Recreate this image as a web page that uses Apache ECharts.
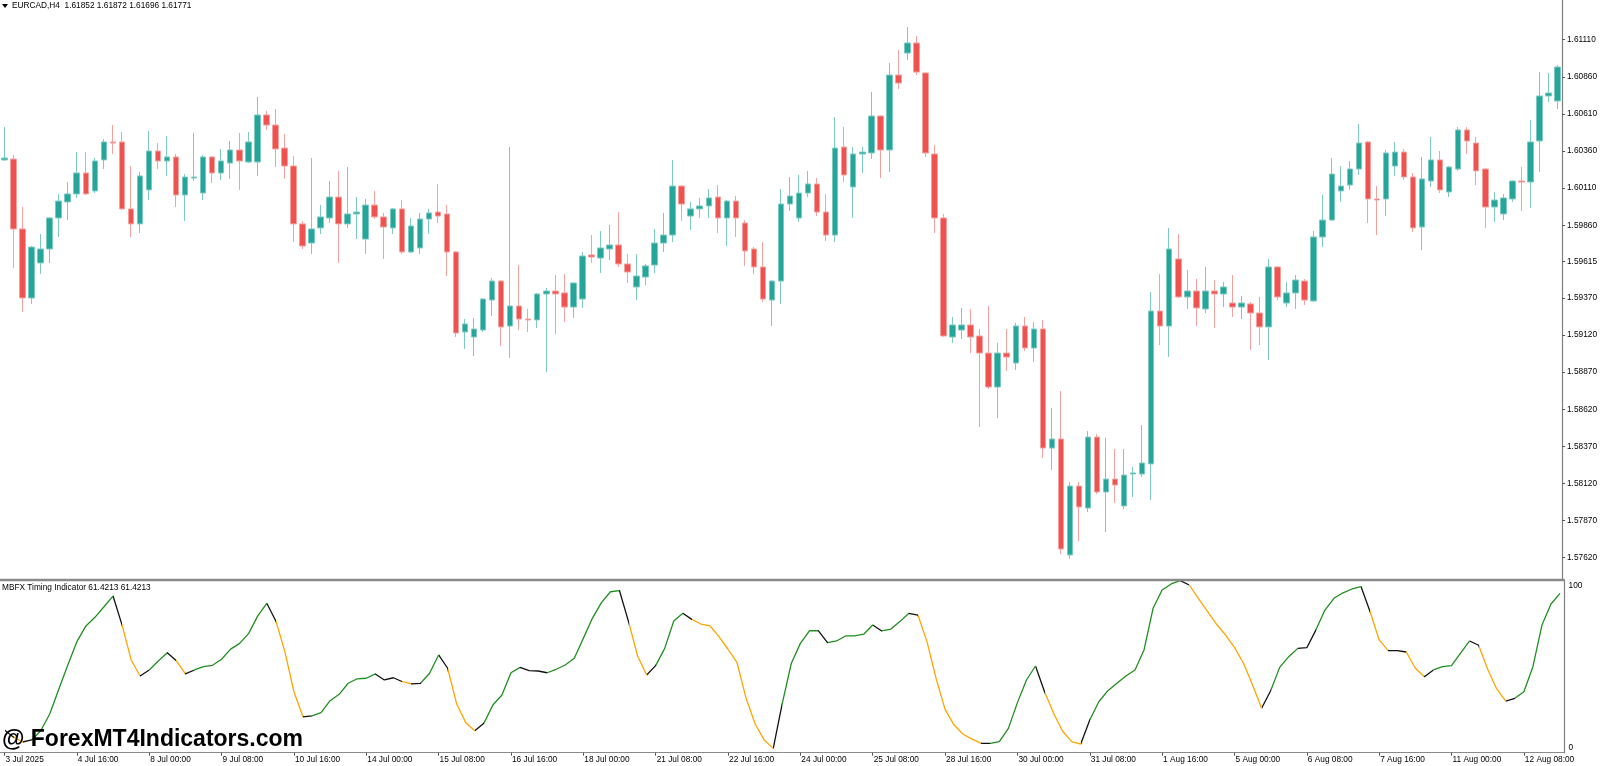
<!DOCTYPE html>
<html>
<head>
<meta charset="utf-8">
<script src="https://cdn.jsdelivr.net/npm/echarts@6/dist/echarts.min.js"></script>
<style>
html,body{margin:0;padding:0;background:#fff;}
#chart{width:1600px;height:766px;}
</style>
</head>
<body>
<div id="chart"></div>
<script>
// ---- DATA (EURCAD H4) ----
const open = [1.60300,1.60306,1.59835,1.59370,1.59606,1.59700,1.59909,1.60017,1.60071,1.60212,1.60091,1.60300,1.60421,1.60421,1.59970,1.59869,1.60098,1.60360,1.60293,1.60320,1.60064,1.60178,1.60077,1.60320,1.60212,1.60279,1.60367,1.60286,1.60286,1.60603,1.60535,1.60380,1.60259,1.59869,1.59740,1.59842,1.59909,1.60050,1.59869,1.59936,1.59767,1.59996,1.59916,1.59842,1.59970,1.59680,1.59707,1.59902,1.59949,1.59936,1.59680,1.59141,1.59107,1.59154,1.59356,1.59484,1.59181,1.59316,1.59228,1.59222,1.59397,1.59417,1.59404,1.59309,1.59363,1.59660,1.59639,1.59700,1.59727,1.59599,1.59444,1.59511,1.59592,1.59740,1.59794,1.60124,1.59922,1.59970,1.59990,1.60050,1.59909,1.60023,1.59875,1.59700,1.59579,1.59356,1.59484,1.60003,1.59909,1.60077,1.60138,1.59949,1.59794,1.60387,1.60118,1.60340,1.60347,1.60596,1.60367,1.60872,1.61020,1.61088,1.60886,1.60340,1.59909,1.59107,1.59154,1.59188,1.59114,1.58999,1.58770,1.58999,1.58932,1.59181,1.59033,1.59161,1.58359,1.58420,1.57639,1.58103,1.57955,1.58433,1.58063,1.58150,1.57969,1.58184,1.58184,1.58252,1.59282,1.59181,1.59633,1.59377,1.59417,1.59296,1.59417,1.59397,1.59336,1.59309,1.59330,1.59269,1.59175,1.59579,1.59336,1.59404,1.59484,1.59350,1.59781,1.59895,1.60091,1.60131,1.60239,1.60421,1.60037,1.60037,1.60259,1.60353,1.60185,1.59848,1.60158,1.60300,1.60084,1.60239,1.60502,1.60414,1.60239,1.59983,1.59936,1.60037,1.60158,1.60151,1.60428,1.60731,1.60697];
const close = [1.60313,1.59835,1.59370,1.59713,1.59700,1.59909,1.60023,1.60071,1.60212,1.60071,1.60293,1.60421,1.60414,1.59970,1.59869,1.60192,1.60360,1.60293,1.60320,1.60064,1.60185,1.60185,1.60320,1.60212,1.60293,1.60367,1.60293,1.60421,1.60603,1.60535,1.60374,1.60259,1.59869,1.59720,1.59835,1.59916,1.60050,1.59869,1.59936,1.59949,1.59996,1.59916,1.59848,1.59970,1.59680,1.59855,1.59902,1.59943,1.59922,1.59680,1.59134,1.59195,1.59161,1.59363,1.59484,1.59175,1.59316,1.59228,1.59222,1.59397,1.59417,1.59397,1.59309,1.59471,1.59653,1.59646,1.59707,1.59727,1.59599,1.59545,1.59518,1.59586,1.59740,1.59794,1.60124,1.60003,1.59970,1.59990,1.60044,1.59909,1.60023,1.59909,1.59687,1.59579,1.59363,1.59484,1.60003,1.60057,1.60077,1.60138,1.59949,1.59794,1.60380,1.60199,1.60340,1.60353,1.60596,1.60367,1.60872,1.60818,1.61088,1.60892,1.60347,1.59909,1.59114,1.59188,1.59188,1.59107,1.58999,1.58770,1.58999,1.58972,1.59181,1.59033,1.59161,1.58359,1.58420,1.57679,1.58103,1.57962,1.58433,1.58063,1.58150,1.58110,1.58177,1.58191,1.58258,1.59282,1.59181,1.59700,1.59377,1.59417,1.59303,1.59417,1.59397,1.59444,1.59309,1.59336,1.59269,1.59175,1.59579,1.59377,1.59404,1.59491,1.59356,1.59781,1.59895,1.60205,1.60124,1.60239,1.60414,1.60037,1.60030,1.60347,1.60353,1.60185,1.59842,1.60172,1.60300,1.60098,1.60252,1.60502,1.60428,1.60226,1.59983,1.60030,1.60044,1.60158,1.60151,1.60421,1.60731,1.60751,1.60926];
const low = [1.60293,1.59572,1.59276,1.59330,1.59532,1.59606,1.59781,1.59895,1.60044,1.60064,1.60077,1.60239,1.60340,1.59963,1.59781,1.59808,1.60030,1.60239,1.60192,1.59983,1.59889,1.60158,1.60030,1.60145,1.60165,1.60172,1.60098,1.60279,1.60192,1.60502,1.60252,1.60172,1.59747,1.59700,1.59666,1.59801,1.59875,1.59606,1.59842,1.59767,1.59666,1.59902,1.59633,1.59801,1.59666,1.59673,1.59666,1.59801,1.59875,1.59518,1.59107,1.59026,1.58979,1.59141,1.59249,1.59047,1.58966,1.59154,1.59141,1.59168,1.58871,1.59127,1.59208,1.59235,1.59303,1.59606,1.59538,1.59626,1.59579,1.59471,1.59356,1.59457,1.59538,1.59680,1.59747,1.59889,1.59828,1.59909,1.59909,1.59808,1.59720,1.59781,1.59586,1.59532,1.59343,1.59181,1.59330,1.59956,1.59882,1.60050,1.59922,1.59754,1.59747,1.60151,1.59909,1.60212,1.60306,1.60178,1.60219,1.60778,1.60973,1.60872,1.60320,1.59808,1.59107,1.59067,1.59094,1.58999,1.58501,1.58757,1.58561,1.58878,1.58885,1.59013,1.58939,1.58292,1.58211,1.57645,1.57612,1.57733,1.57928,1.58049,1.57793,1.57989,1.57948,1.58029,1.58164,1.58009,1.59053,1.58972,1.59370,1.59296,1.59181,1.59269,1.59168,1.59309,1.59242,1.59228,1.59020,1.59053,1.58952,1.59356,1.59309,1.59296,1.59323,1.59343,1.59713,1.59889,1.60017,1.60098,1.60199,1.59875,1.59794,1.59922,1.60192,1.60165,1.59815,1.59693,1.60118,1.60077,1.60050,1.60226,1.60340,1.60131,1.59842,1.59882,1.59895,1.60017,1.59956,1.59976,1.60219,1.60690,1.60643];
const high = [1.60522,1.60333,1.59983,1.59720,1.59801,1.59916,1.60071,1.60151,1.60353,1.60353,1.60313,1.60441,1.60535,1.60488,1.60259,1.60219,1.60495,1.60414,1.60461,1.60340,1.60205,1.60482,1.60333,1.60327,1.60374,1.60428,1.60482,1.60488,1.60724,1.60630,1.60643,1.60475,1.60327,1.59889,1.60313,1.59996,1.60158,1.60226,1.60252,1.60050,1.60037,1.60091,1.59943,1.59976,1.60030,1.59909,1.59943,1.59970,1.60138,1.59996,1.59687,1.59228,1.59235,1.59370,1.59505,1.59491,1.60387,1.59592,1.59296,1.59404,1.59437,1.59525,1.59532,1.59475,1.59680,1.59794,1.59821,1.59862,1.59949,1.59666,1.59666,1.59599,1.59835,1.59943,1.60300,1.60128,1.60017,1.60044,1.60104,1.60131,1.60030,1.60057,1.59895,1.59713,1.59747,1.59491,1.60104,1.60185,1.60199,1.60226,1.60178,1.60071,1.60589,1.60522,1.60387,1.60387,1.60758,1.60600,1.60953,1.61041,1.61196,1.61135,1.60892,1.60401,1.59936,1.59242,1.59303,1.59296,1.59161,1.59316,1.59067,1.59161,1.59202,1.59242,1.59208,1.59222,1.58629,1.58743,1.58130,1.58130,1.58474,1.58454,1.58427,1.58353,1.58353,1.58231,1.58514,1.59410,1.59532,1.59842,1.59801,1.59559,1.59498,1.59579,1.59491,1.59478,1.59525,1.59383,1.59343,1.59377,1.59633,1.59586,1.59478,1.59525,1.59498,1.59821,1.60064,1.60313,1.60259,1.60293,1.60542,1.60428,1.60124,1.60367,1.60421,1.60374,1.60212,1.60320,1.60455,1.60360,1.60259,1.60522,1.60522,1.60455,1.60246,1.60084,1.60071,1.60162,1.60252,1.60569,1.60892,1.60886,1.60940];

// MBFX Timing Indicator values, one per bar
const mbfx = [13.2,9,6.2,7.4,12.7,22.4,36.7,50.8,64.3,73.4,78.4,84.5,90.7,73.9,53.7,44.4,47.9,53.1,57.9,53.3,45.6,47.9,49.8,50.6,54.1,60.0,63.3,69.1,79.2,86.5,76.3,58.5,35.3,20.8,21.3,23.2,30.1,33.8,40.2,42.8,43.1,45.6,42.1,43.4,41.1,39.8,40.2,46.0,56.6,48.9,28.2,17.4,12.7,17.0,27.6,33.4,46.3,49.4,47.5,47.3,46.3,48.3,50.8,54.7,66.2,77.8,86.9,93.2,93.8,75.9,56.0,45.0,50.4,60.4,76.3,80.7,77.2,74.5,73.5,67.2,59.9,52.1,31.5,16.6,7.4,2.5,28.6,51.8,63.3,70.6,70.6,63.7,64.7,67.6,67.6,68.6,73.9,70.5,71.6,75.9,80.7,79.7,64.3,43.1,25.1,16.0,10.7,7.9,5.4,5.4,6.4,14.1,29.0,42.1,50.2,35.3,22.8,12.4,6.4,5.0,18.9,29.5,35.9,40.2,44.4,47.9,59.5,83.6,94.2,97.7,99.6,97.1,89.4,82.0,74.5,68.2,61.0,51.8,39.2,25.7,35.9,49.4,55.6,60.4,60.8,71.0,82.6,89.4,92.6,94.8,96.1,81.6,65.3,59.1,59.1,58.3,48.9,44.0,47.9,49.8,50.4,57.6,64.7,62.2,48.3,36.9,29.9,31.5,35.3,49.8,73.9,86.1,92.3];
// colour runs of the segments between consecutive indicator points: [code, number of segments]
// g = rising (green), o = falling (orange), k = turning (black)
const mbfxRuns = [['k',1],['o',1],['k',1],['g',9],['k',1],['o',2],['k',1],['g',2],['k',1],['o',1],['k',1],['g',8],['k',1],['o',3],['k',1],['g',7],['k',3],['o',1],['k',1],['g',2],['k',1],['o',3],['k',1],['g',4],['k',3],['g',8],['k',1],['o',2],['k',1],['g',3],['k',1],['o',9],['k',1],['g',4],['k',1],['g',5],['k',1],['g',3],['k',1],['o',7],['k',1],['g',5],['k',1],['o',4],['k',1],['g',10],['k',1],['o',8],['k',1],['g',3],['k',2],['g',5],['k',1],['o',2],['k',2],['o',2],['k',1],['g',4],['k',1],['o',3],['k',1],['g',5]];

const priceTicks = [1.61110,1.60860,1.60610,1.60360,1.60110,1.59860,1.59615,1.59370,1.59120,1.58870,1.58620,1.58370,1.58120,1.57870,1.57620];
const mbfxTicks = [0, 100];
const headerText = "EURCAD,H4  1.61852 1.61872 1.61696 1.61771";
const indicatorTitle = "MBFX Timing Indicator 61.4213 61.4213";
const watermark = "@ ForexMT4Indicators.com";

// time categories: H4 bars from 3 Jul 2025 08:00, weekends skipped
const MON = ['Jan','Feb','Mar','Apr','May','Jun','Jul','Aug','Sep','Oct','Nov','Dec'];
const times = [];
(function(){
  let t = Date.UTC(2025, 6, 3, 8, 0);
  while (times.length < open.length) {
    const d = new Date(t);
    const wd = d.getUTCDay();
    if (wd !== 0 && wd !== 6) {
      const p = n => (n < 10 ? '0' : '') + n;
      if (times.length === 0) times.push(d.getUTCDate() + ' ' + MON[d.getUTCMonth()] + ' ' + d.getUTCFullYear());
      else times.push(d.getUTCDate() + ' ' + MON[d.getUTCMonth()] + ' ' + p(d.getUTCHours()) + ':' + p(d.getUTCMinutes()));
    }
    t += 4 * 3600 * 1000;
  }
})();

// ---- BUILD ----
const candleData = open.map((o, i) => [o, close[i], low[i], high[i]]);
const COLORS = { g: '#1f8f1f', o: '#ffa500', k: '#111111' };
const pieces = [];
(function(){
  let start = 0;
  mbfxRuns.forEach(([c, n], idx) => {
    const piece = { gte: start, color: COLORS[c] };
    if (idx === mbfxRuns.length - 1) piece.lte = mbfx.length; else piece.lt = start + n;
    pieces.push(piece);
    start += n;
  });
})();

const FONT = 'Liberation Sans';
const GRID_LEFT = -4.535, GRID_W = 1569.1;
const chart = echarts.init(document.getElementById('chart'), null, { renderer: 'canvas' });
chart.setOption({
  animation: false,
  backgroundColor: '#ffffff',
  textStyle: { fontFamily: FONT },
  grid: [
    { left: GRID_LEFT, top: 0, width: GRID_W, height: 579.5 },
    { left: GRID_LEFT, top: 580, width: GRID_W, height: 172.7 }
  ],
  xAxis: [
    { type: 'category', gridIndex: 0, data: times, boundaryGap: true,
      axisLine: { show: false }, axisTick: { show: false }, axisLabel: { show: false }, splitLine: { show: false } },
    { type: 'category', gridIndex: 1, data: times, boundaryGap: true,
      axisLine: { show: true, lineStyle: { color: '#8a8a8a', width: 1 } },
      axisTick: { show: true, alignWithLabel: true, interval: 7, length: 3, lineStyle: { color: '#555' } },
      axisLabel: { show: true, interval: 7, align: 'left', margin: 3, color: '#000', fontSize: 8.3, fontFamily: FONT, padding: [0, 0, 0, 1] },
      splitLine: { show: false } }
  ],
  yAxis: [
    { type: 'value', gridIndex: 0, position: 'right', min: 1.574734, max: 1.613775,
      axisLine: { show: true, lineStyle: { color: '#7f7f7f', width: 1.2 } },
      axisTick: { show: true, length: 3, customValues: priceTicks, lineStyle: { color: '#555' } },
      axisLabel: { show: true, customValues: priceTicks, formatter: v => v.toFixed(5), margin: 5, color: '#000', fontSize: 8.3, fontFamily: FONT },
      splitLine: { show: false } },
    { type: 'value', gridIndex: 1, position: 'right', min: 0, max: 100,
      axisLine: { show: true, lineStyle: { color: '#7f7f7f', width: 1.2 } },
      axisTick: { show: false },
      axisLabel: { show: true, customValues: mbfxTicks, margin: 4, color: '#000', fontSize: 8.3, fontFamily: FONT,
        formatter: v => (v >= 100 ? '{t|' + v + '}' : '{b|' + v + '}'),
        rich: { t: { padding: [11, 0, 0, 0], fontSize: 8.3, fontFamily: FONT, color: '#000' },
                b: { padding: [0, 0, 10, 0], fontSize: 8.3, fontFamily: FONT, color: '#000' } } },
      splitLine: { show: false } }
  ],
  visualMap: [{ type: 'piecewise', show: false, dimension: 0, seriesIndex: 1, pieces: pieces }],
  series: [
    { type: 'candlestick', xAxisIndex: 0, yAxisIndex: 0, data: candleData, barWidth: 6,
      itemStyle: { color: '#26a69a', color0: '#ef5350', borderColor: '#7ccac2', borderColor0: '#f5a19f', borderWidth: 1 } },
    { type: 'line', xAxisIndex: 1, yAxisIndex: 1, data: mbfx, symbol: 'none', smooth: false,
      lineStyle: { width: 1.3 } }
  ],
  graphic: [
    { type: 'polygon', z: 100, shape: { points: [[2, 4], [8, 4], [5, 8]] }, style: { fill: '#000' } },
    { type: 'text', z: 100, left: 12, top: 2, style: { text: headerText, fill: '#000', font: '8.3px "' + FONT + '"' } },
    { type: 'text', z: 100, left: 2, top: 583.5, style: { text: indicatorTitle, fill: '#000', font: '8.3px "' + FONT + '"' } },
    { type: 'line', z: 100, shape: { x1: 0, y1: 580, x2: 1564.6, y2: 580 }, style: { stroke: '#8a8a8a', lineWidth: 2.5 } },
    { type: 'text', z: 110, left: 2, top: 728, style: { text: watermark, fill: '#000', font: 'bold 23px "' + FONT + '"' } }
  ]
});
</script>
</body>
</html>
